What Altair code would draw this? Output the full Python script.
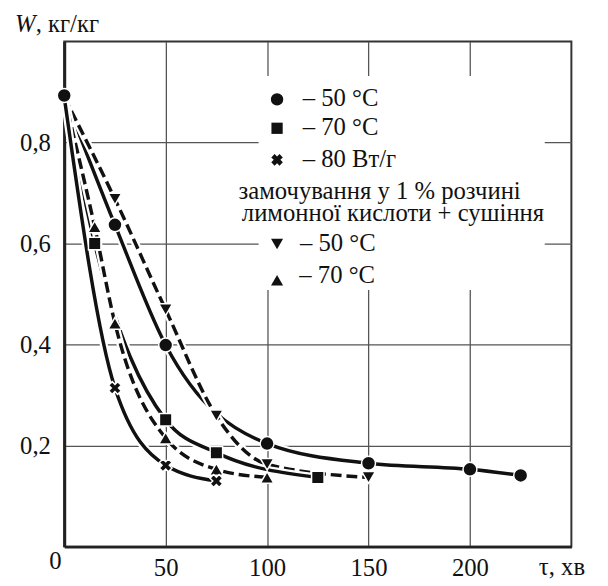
import altair as alt
import pandas as pd

FONT = "Liberation Serif"

# ---- data ----
t_c50 = [0, 25, 50, 100, 150, 200, 225]
w_c50 = [0.893, 0.637, 0.399, 0.204, 0.165, 0.153, 0.141]
t_c70 = [0, 15, 50, 75, 125]
w_c70 = [0.89, 0.600, 0.251, 0.186, 0.137]
t_m80 = [0, 25, 50, 75]
w_m80 = [0.89, 0.314, 0.161, 0.130]
t_t50 = [0, 25, 50, 75, 100, 150]
w_t50 = [0.89, 0.688, 0.469, 0.259, 0.163, 0.137]
t_t70 = [0, 15, 25, 50, 75, 100]
w_t70 = [0.89, 0.633, 0.442, 0.215, 0.153, 0.137]

x_ticks = [50, 100, 150, 200]
y_ticks = [0.2, 0.4, 0.6, 0.8]

legend_labels = ["– 50 °C", "– 70 °C", "– 80 Вт/г",
                 "замочування у 1 % розчині",
                 "лимонної кислоти + сушіння",
                 "– 50 °C", "– 70 °C"]

series = [
    # name, t, w, shape, dashed, size, angle
    ("c50", t_c50, w_c50, "circle", False, 200, 0),
    ("t50", t_t50, w_t50, "triangle-down", True, 190, 0),
    ("c70", t_c70, w_c70, "square", False, 160, 0),
    ("t70", t_t70, w_t70, "triangle-up", True, 190, 0),
    ("m80", t_m80, w_m80, "cross", False, 170, 45),
]

x_enc = alt.X("t:Q", scale=alt.Scale(domain=[0, 250], nice=False, zero=True),
              axis=alt.Axis(values=x_ticks, title=None, grid=True, ticks=False,
                            labelPadding=9, labelFont=FONT, labelFontSize=25,
                            labelColor="#111", gridColor="#555", gridWidth=1.3,
                            domainColor="#222", domainWidth=3))
y_enc = alt.Y("w:Q", scale=alt.Scale(domain=[0, 1], nice=False, zero=True),
              axis=alt.Axis(values=y_ticks, title=None, grid=True, ticks=False,
                            labelPadding=14, labelFont=FONT, labelFontSize=25,
                            labelColor="#111", gridColor="#555", gridWidth=1.3,
                            domainColor="#222", domainWidth=3,
                            labelExpr="replace(format(datum.value, '.1f'), '.', ',')"))

layers = []
one = pd.DataFrame({"a": [0]})

# legend background box (covers grid)
layers.append(alt.Chart(one).mark_rect(color="white").encode(
    x=alt.value(197), x2=alt.value(487), y=alt.value(35), y2=alt.value(252)))

for name, ts, ws, shape, dashed, size, angle in series:
    df = pd.DataFrame({"t": ts, "w": ws})
    base = alt.Chart(df)
    layers.append(base.mark_line(color="white", strokeWidth=8, interpolate="monotone")
                  .encode(x=x_enc, y=y_enc))
    lk = dict(color="#111", strokeWidth=3.5, interpolate="monotone")
    if dashed:
        lk["strokeDash"] = [11, 5]
    layers.append(base.mark_line(**lk).encode(x=x_enc, y=y_enc))

for name, ts, ws, shape, dashed, size, angle in series:
    df = pd.DataFrame({"t": ts, "w": ws})
    if name != "c50":
        df = df[df["t"] > 0]
    layers.append(alt.Chart(df).mark_point(
        shape=shape, filled=True, fill="#111", stroke="white", strokeWidth=1.5,
        size=size, angle=angle, opacity=1).encode(x=x_enc, y=y_enc))

# legend symbols
leg_sym = [("circle", 0, 58.7, 160), ("square", 0, 88, 130), ("cross", 45, 120, 140),
           ("triangle-down", 0, 205.3, 150), ("triangle-up", 0, 242, 150)]
for shape, ang, yy, sz in leg_sym:
    layers.append(alt.Chart(one).mark_point(
        shape=shape, filled=True, fill="#111", strokeWidth=0, size=sz, angle=ang,
        opacity=1).encode(x=alt.value(215.7), y=alt.value(yy)))

leg_pos = [(241.7, 65.3), (241.7, 95.3), (241.7, 127.7), (176.7, 159.7),
           (180, 182), (239, 212), (238.3, 245.3)]
for txt, (xx, yy) in zip(legend_labels, leg_pos):
    layers.append(alt.Chart(one).mark_text(
        align="left", baseline="alphabetic", font=FONT, fontSize=25, color="#111",
        text=txt).encode(x=alt.value(xx), y=alt.value(yy)))

# axis titles and corner zero
layers.append(alt.Chart(one).mark_text(
    align="left", baseline="alphabetic", font=FONT, fontSize=25, fontStyle="italic",
    color="#111", text="W").encode(x=alt.value(-50), y=alt.value(-10)))
layers.append(alt.Chart(one).mark_text(
    align="left", baseline="alphabetic", font=FONT, fontSize=25,
    color="#111", text=", кг/кг").encode(x=alt.value(-29), y=alt.value(-10)))
layers.append(alt.Chart(one).mark_text(
    align="left", baseline="alphabetic", font=FONT, fontSize=25,
    color="#111", text="τ, хв").encode(x=alt.value(481), y=alt.value(541)))
layers.append(alt.Chart(one).mark_text(
    align="center", baseline="alphabetic", font=FONT, fontSize=25,
    color="#111", text="0").encode(x=alt.value(-9), y=alt.value(535)))

chart = alt.layer(*layers).properties(
    width=514, height=512,
    autosize=alt.AutoSizeParams(type="none"),
    padding={"left": 57, "top": 30, "right": 29, "bottom": 36},
    background="white",
).configure_view(stroke="#333", strokeWidth=2)

chart.save("out.html", embed_options={"renderer": "svg", "actions": False})
